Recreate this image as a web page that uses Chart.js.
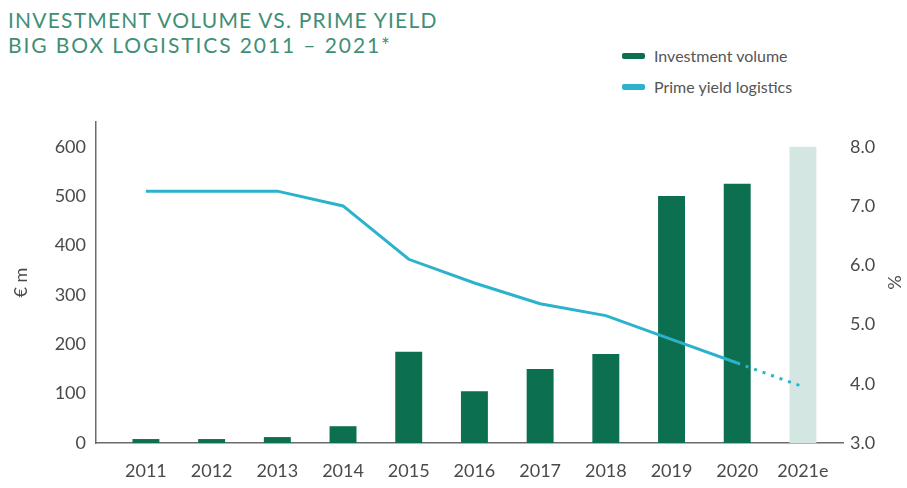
<!DOCTYPE html>
<html>
<head>
<meta charset="utf-8">
<script src="https://cdn.jsdelivr.net/npm/chart.js@4"></script>
<style>
  html, body { margin: 0; padding: 0; background: #fff; }
  body { width: 907px; height: 488px; position: relative; overflow: hidden; font-family: Lato, "Noto Sans", sans-serif; }
  #title { position: absolute; left: 8px; top: 7px; color: #3f8f77; font-size: 21px; line-height: 25px; letter-spacing: 1.2px; }
  #title .l2 { letter-spacing: 1.9px; }
  #legend { position: absolute; left: 622px; top: 40px; color: #555; font-size: 16px; }
  .item { display: flex; align-items: center; height: 31px; }
  .sw { width: 23px; height: 6px; border-radius: 2px; margin-right: 9px; }
  #wrap { position: absolute; left: 0; top: 0; width: 907px; height: 488px; }
</style>
</head>
<body>
<div id="title">INVESTMENT VOLUME VS. PRIME YIELD<br><span class="l2">BIG BOX LOGISTICS 2011 – 2021*</span></div>
<div id="legend">
  <div class="item"><span class="sw" style="background:#0c6f50"></span>Investment volume</div>
  <div class="item"><span class="sw" style="background:#2bb2cd"></span>Prime yield logistics</div>
</div>
<div id="wrap"><canvas id="c" width="907" height="488"></canvas></div>
<script>
const categories = ['2011','2012','2013','2014','2015','2016','2017','2018','2019','2020','2021e'];
const investmentVolume = [8, 8, 12, 34, 185, 105, 150, 180, 500, 525, 600];
const primeYield = [7.25, 7.25, 7.25, 7.0, 6.1, 5.7, 5.35, 5.15, 4.75, 4.35, 3.95];
const leftTicks = [0, 100, 200, 300, 400, 500, 600];
const rightTicks = [3, 4, 5, 6, 7, 8];

const DARK = '#0c6f50', LIGHT = '#d3e6e2', CYAN = '#2bb2cd', AXIS = '#6b6b6b', TICK = '#4a4a4a';
const tickFont = { family: 'Lato', size: 18 };

new Chart(document.getElementById('c'), {
  data: {
    datasets: [
      {
        type: 'line',
        label: 'Prime yield logistics',
        data: primeYield.map((v, i) => ({ x: i, y: v })),
        yAxisID: 'y2',
        borderColor: CYAN,
        borderWidth: 3,
        pointRadius: 0,
        tension: 0,
        order: 0,
        segment: {
          borderDash: ctx => categories[ctx.p1DataIndex].endsWith('e') ? [3, 6] : undefined
        }
      },
      {
        type: 'bar',
        label: 'Investment volume',
        data: investmentVolume.map((v, i) => ({ x: i, y: v })),
        yAxisID: 'y',
        backgroundColor: ctx => categories[ctx.dataIndex].endsWith('e') ? LIGHT : DARK,
        barPercentage: 0.41,
        categoryPercentage: 1,
        order: 1
      }
    ]
  },
  options: {
    responsive: false,
    animation: false,
    layout: { padding: { top: 122, left: 0, right: 0, bottom: 0 } },
    plugins: { legend: { display: false }, tooltip: { enabled: false } },
    scales: {
      x: {
        type: 'linear',
        offset: false,
        min: -0.76,
        max: 10.61,
        grid: { display: false, drawTicks: false, offset: false },
        border: { display: true, color: AXIS, width: 1.5 },
        afterBuildTicks: s => { s.ticks = categories.map((c, i) => ({ value: i })); },
        afterFit: s => { s.height = 45; },
        ticks: {
          color: TICK, font: tickFont, padding: 17, maxRotation: 0, autoSkip: false,
          callback: v => categories[v]
        }
      },
      y: {
        position: 'left',
        min: 0,
        max: 650,
        grid: { display: false, drawTicks: false },
        border: { display: true, color: AXIS, width: 1.5 },
        afterBuildTicks: s => { s.ticks = leftTicks.map(v => ({ value: v })); },
        afterFit: s => { s.width = 96; },
        ticks: { color: TICK, font: tickFont, padding: 10 },
        title: { display: true, text: '€ m', color: TICK, font: { family: 'Lato', size: 18 }, padding: { top: 10, bottom: 4 } }
      },
      y2: {
        position: 'right',
        min: 3,
        max: 3 + 5 * 650 / 600,
        grid: { display: false, drawTicks: false },
        border: { display: false },
        afterBuildTicks: s => { s.ticks = rightTicks.map(v => ({ value: v })); },
        afterFit: s => { s.width = 64; },
        ticks: { color: TICK, font: tickFont, padding: 7, callback: v => v.toFixed(1) },
        title: { display: true, text: '%', color: TICK, font: { family: 'Lato', size: 18 }, padding: { top: 2, bottom: 0 } }
      }
    }
  }
});
</script>
</body>
</html>
